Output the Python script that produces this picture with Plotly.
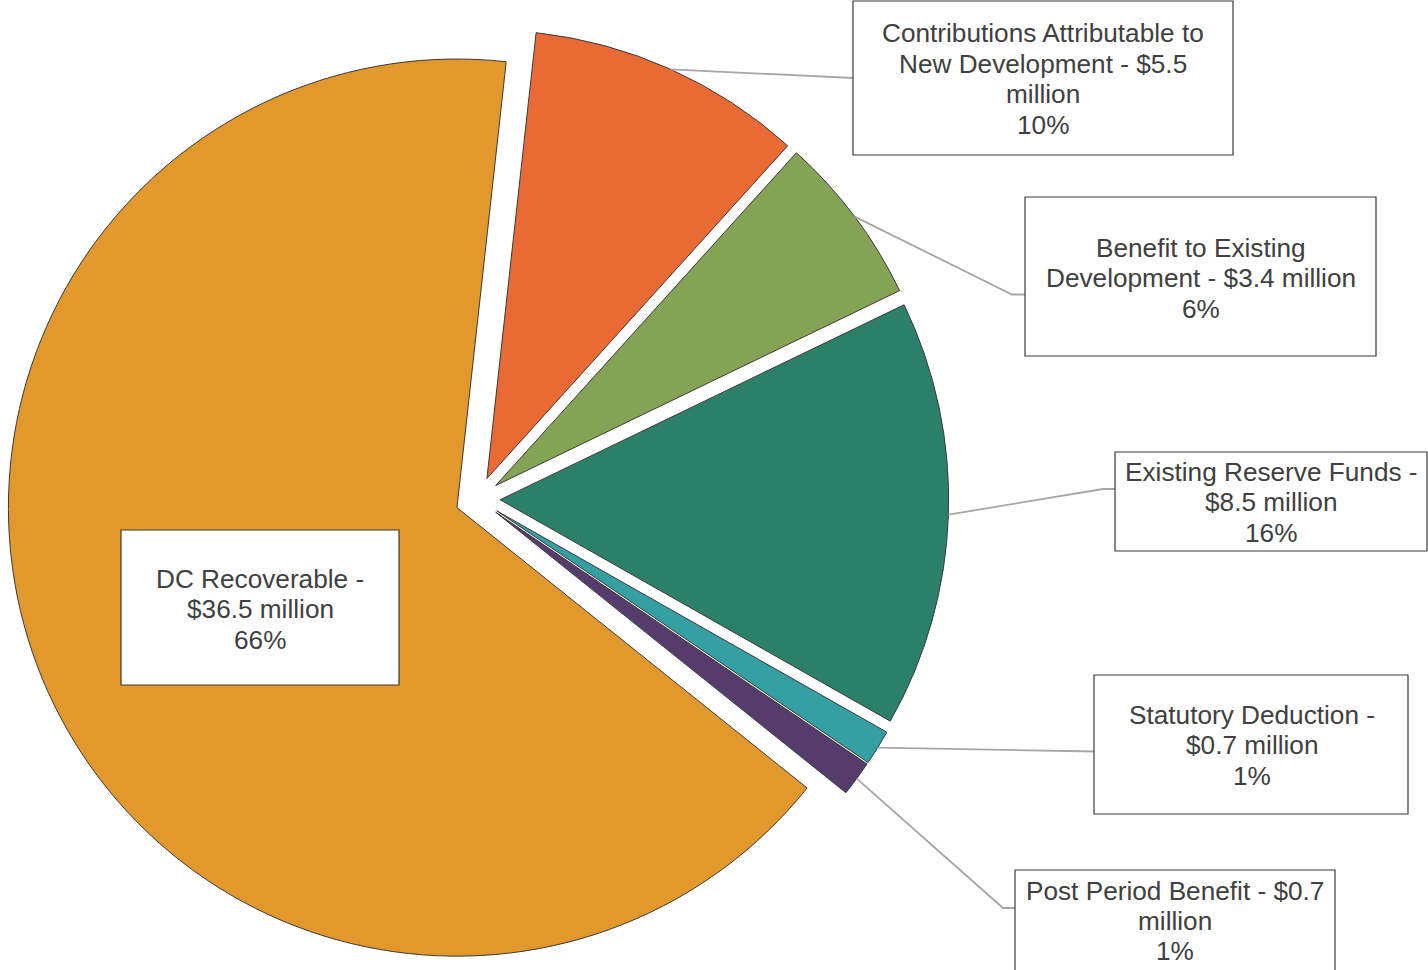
import math
import textwrap

import plotly.graph_objects as go

# Funding sources, in millions of dollars, listed clockwise from the top
categories = [
    "Contributions Attributable to New Development",
    "Benefit to Existing Development",
    "Existing Reserve Funds",
    "Statutory Deduction",
    "Post Period Benefit",
    "DC Recoverable",
]
values_musd = [5.5, 3.4, 8.5, 0.7, 0.7, 36.5]
pct_labels = ["10%", "6%", "16%", "1%", "1%", "66%"]

colors = ["#E96A34", "#84A354", "#2C806A", "#34A0A4", "#563C6C", "#E2982C"]

W, H = 1428, 970
PULL = 0.05
ROTATION = 6.3
DOM_X = (0.00469, 0.66436)
DOM_Y = (0.0, 0.97113)

TEXT_COLOR = "#404040"
BOX_COLOR = "#3a3a3a"
LEADER_COLOR = "#A6A6A6"
FONT = "Liberation Sans, Arial, sans-serif"
FONT_SIZE = 26.2
LINE_GAP = 30.4

# Label boxes (pixel rectangles), text centre x, first text line y, wrap width
label_layout = [
    dict(box=(853, 1, 1233, 155), tx=1043, ty=33.5, wrap=29),
    dict(box=(1025, 197, 1376, 356), tx=1201, ty=248, wrap=26),
    dict(box=(1115, 452, 1427, 551), tx=1271, ty=472, wrap=24),
    dict(box=(1094, 675, 1408, 814), tx=1252, ty=715, wrap=21),
    dict(box=(1015, 870, 1335, 976), tx=1175, ty=890.5, wrap=26),
    dict(box=(121, 530, 399, 685), tx=260, ty=579, wrap=16),
]

# Leader line routes: elbow point (or None) and end point at the box edge
leader_layout = [
    dict(elbow=None, end=(853, 78)),
    dict(elbow=(1012, 294.5), end=(1025, 294.5)),
    dict(elbow=(1103, 489), end=(1115, 489)),
    dict(elbow=None, end=(1094, 751.5)),
    dict(elbow=(1003, 908), end=(1015, 908)),
    None,
]


def px(x):
    return x / W


def py(y):
    return 1 - y / H


# Pie geometry as plotly lays it out, used to anchor the leader lines
box_w = W * (DOM_X[1] - DOM_X[0])
box_h = H * (DOM_Y[1] - DOM_Y[0])
radius = min(box_w, box_h) / 2 / (1 + PULL)
cx = W * (DOM_X[0] + DOM_X[1]) / 2
cy = H * (1 - DOM_Y[0]) - box_h / 2

total = sum(values_musd)
mid_angles = []
acc = ROTATION
for v in values_musd:
    span = 360 * v / total
    mid_angles.append(acc + span / 2)
    acc += span

fig = go.Figure(
    go.Pie(
        labels=categories,
        values=values_musd,
        sort=False,
        direction="clockwise",
        rotation=ROTATION,
        pull=[PULL] * len(values_musd),
        marker=dict(colors=colors, line=dict(color=BOX_COLOR, width=1)),
        textinfo="none",
        hoverinfo="label+value+percent",
        showlegend=False,
        domain=dict(x=list(DOM_X), y=list(DOM_Y)),
    )
)

shapes = []
annotations = []

# Leader lines from each slice's outer arc midpoint to its label box
for ang, route in zip(mid_angles, leader_layout):
    if route is None:
        continue
    a = math.radians(ang)
    ux, uy = math.sin(a), -math.cos(a)
    sx = cx + (PULL * radius + radius) * ux
    sy = cy + (PULL * radius + radius) * uy
    pts = [(sx, sy)]
    if route["elbow"]:
        pts.append(route["elbow"])
    pts.append(route["end"])
    path = "M " + " L ".join(f"{px(x):.5f},{py(y):.5f}" for x, y in pts)
    shapes.append(dict(type="path", xref="paper", yref="paper", path=path,
                       line=dict(color=LEADER_COLOR, width=1.8), layer="above"))

# Label boxes and their text
for cat, val, pct, lay in zip(categories, values_musd, pct_labels, label_layout):
    x0, y0, x1, y1 = lay["box"]
    shapes.append(dict(type="rect", xref="paper", yref="paper",
                       x0=px(x0), x1=px(x1), y0=py(y1), y1=py(y0),
                       line=dict(color=BOX_COLOR, width=1.2), fillcolor="white",
                       layer="above"))
    lines = textwrap.wrap(f"{cat} - ${val} million", width=lay["wrap"]) + [pct]
    for i, ln in enumerate(lines):
        annotations.append(dict(
            x=px(lay["tx"]), y=py(lay["ty"] + i * LINE_GAP),
            xref="paper", yref="paper", xanchor="center", yanchor="middle",
            text=ln, showarrow=False,
            font=dict(family=FONT, size=FONT_SIZE, color=TEXT_COLOR),
        ))

fig.update_layout(
    width=W,
    height=H,
    margin=dict(l=0, r=0, t=0, b=0),
    paper_bgcolor="white",
    plot_bgcolor="white",
    showlegend=False,
    shapes=shapes,
    annotations=annotations,
)

fig.write_html("out.html")
